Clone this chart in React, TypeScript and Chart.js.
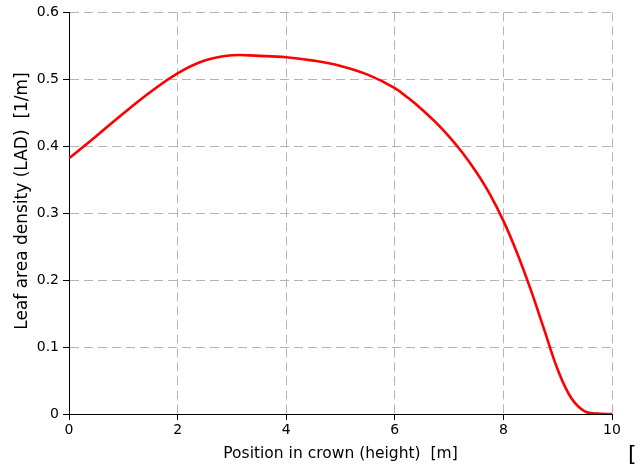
import React, { useEffect, useRef } from "react";
import { Chart, registerables } from "chart.js";

Chart.register(...registerables);

// Position along the crown (m) and the leaf area density there (1/m)
const positions = [0, 0.5, 1, 1.5, 2, 2.5, 3, 3.5, 4, 4.5, 5, 5.5, 6, 6.25, 6.5, 6.75, 7, 7.25, 7.5, 7.75, 8, 8.25, 8.5, 8.75, 9, 9.25, 9.5, 9.75, 10];
const ladValues = [0.382, 0.415, 0.449, 0.481, 0.509, 0.528, 0.536, 0.535, 0.533, 0.528, 0.52, 0.507, 0.487, 0.472, 0.455, 0.436, 0.4145, 0.39, 0.3615, 0.3285, 0.2885, 0.241, 0.1865, 0.1265, 0.0665, 0.024, 0.004, 0.0005, 0];

const xTicks = [0, 2, 4, 6, 8, 10];
const yTicks = [0, 0.1, 0.2, 0.3, 0.4, 0.5, 0.6];

const xTitle = "Position in crown (height)  [m]";
const yTitle = "Leaf area density (LAD)  [1/m]";
const cornerLabel = "[";

const tickFont = { family: "DejaVu Sans", size: 14 };

// Axis titles and the clipped unit bracket in the lower right corner
const axisText = {
  id: "axisText",
  afterDraw(chart: Chart) {
    const ctx = chart.ctx;
    const xs = chart.scales.x;
    ctx.save();
    ctx.fillStyle = "#000";

    ctx.font = "15.5px 'DejaVu Sans'";
    ctx.textAlign = "center";
    ctx.textBaseline = "alphabetic";
    ctx.fillText(xTitle, (xs.left + xs.right) / 2, 458);

    ctx.save();
    ctx.translate(27, 201);
    ctx.rotate(-Math.PI / 2);
    ctx.font = "17px 'DejaVu Sans'";
    ctx.fillText(yTitle, 0, 0);
    ctx.restore();

    ctx.font = "22px 'DejaVu Sans'";
    ctx.textBaseline = "top";
    ctx.textAlign = "left";
    ctx.fillText(cornerLabel, 628, 444);
    ctx.restore();
  },
};

export default function App() {
  const ref = useRef<HTMLCanvasElement>(null);
  useEffect(() => {
    if (!ref.current) return;
    const chart = new Chart(ref.current, {
      type: "line",
      data: {
        datasets: [
          {
            data: positions.map((x, i) => ({ x, y: ladValues[i] })),
            borderColor: "#ff0000",
            borderWidth: 2.6,
            pointRadius: 0,
            tension: 0.4,
            fill: false,
          },
        ],
      },
      options: {
        animation: false,
        responsive: true,
        maintainAspectRatio: false,
        layout: { padding: { top: 12, right: 30, left: 0, bottom: 0 } },
        plugins: { legend: { display: false }, tooltip: { enabled: false } },
        scales: {
          x: {
            type: "linear",
            min: 0,
            max: 10,
            afterBuildTicks: (s: any) => {
              s.ticks = xTicks.map((v) => ({ value: v }));
            },
            afterFit: (s: any) => {
              s.height = 57;
            },
            ticks: { font: tickFont, color: "#000", padding: 2, maxRotation: 0 },
            grid: {
              color: "#b4b4b4",
              lineWidth: 1,
              tickLength: 6,
              tickColor: "#000",
              tickBorderDash: [],
            },
            border: { display: true, color: "#000", width: 1, dash: [9, 5] },
          },
          y: {
            min: 0,
            max: 0.6,
            afterBuildTicks: (s: any) => {
              s.ticks = yTicks.map((v) => ({ value: v }));
            },
            afterFit: (s: any) => {
              s.width = 69;
            },
            ticks: {
              font: tickFont,
              color: "#000",
              padding: 4,
              callback: (v: any) => String(Math.round(Number(v) * 10) / 10),
            },
            grid: {
              color: "#b4b4b4",
              lineWidth: 1,
              tickLength: 6,
              tickColor: "#000",
              tickBorderDash: [],
            },
            border: { display: true, color: "#000", width: 1, dash: [9, 5] },
          },
        },
      },
      plugins: [axisText],
    } as any);
    return () => chart.destroy();
  }, []);
  return (
    <div style={{ position: "fixed", left: 0, top: 0, width: 642, height: 471, background: "#fff" }}>
      <canvas ref={ref} />
    </div>
  );
}
